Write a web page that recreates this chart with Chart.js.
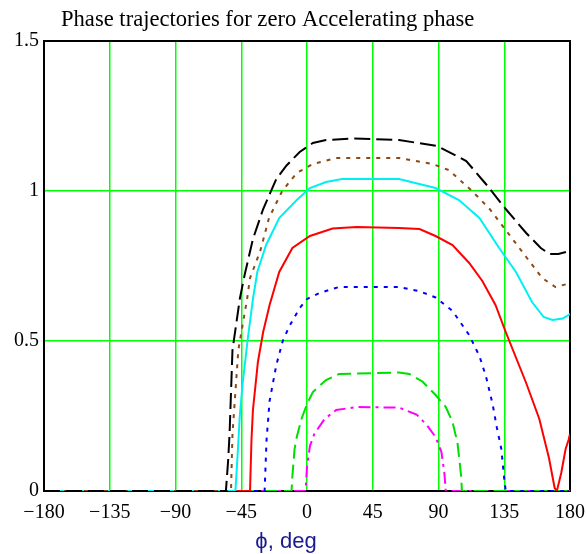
<!DOCTYPE html>
<html>
<head>
<meta charset="utf-8">
<script src="https://cdn.jsdelivr.net/npm/chart.js@4/dist/chart.umd.min.js"></script>
<style>
  html, body { margin: 0; padding: 0; background: #fff; }
  #wrap { width: 587px; height: 554px; position: relative; }
</style>
</head>
<body>
<div id="wrap"><canvas id="phase-chart"></canvas></div>
<script>
var blackPhi = [-180, -55.5, -54, -53, -51, -46, -42.7, -37, -30, -21, -14, -5, 4, 13, 31, 63, 89, 109, 123, 136, 150, 160, 166, 172, 180];
var blackW   = [0, 0, 0.10, 0.19, 0.47, 0.64, 0.72, 0.84, 0.94, 1.04, 1.085, 1.13, 1.16, 1.17, 1.175, 1.17, 1.15, 1.10, 1.02, 0.94, 0.86, 0.81, 0.79, 0.79, 0.80];

var brownPhi = [-180, -52, -51.5, -51, -49, -47, -41, -39, -32, -26, -17, -7, 4, 20, 63, 86, 97, 113, 125, 136, 150, 161, 170, 178, 180];
var brownW   = [0, 0, 0.10, 0.19, 0.33, 0.47, 0.64, 0.71, 0.80, 0.91, 1.00, 1.06, 1.09, 1.11, 1.11, 1.09, 1.07, 1.00, 0.94, 0.87, 0.78, 0.71, 0.68, 0.69, 0.69];

var cyanPhi = [-180, -49, -47.5, -46, -44, -40.6, -37, -34, -28, -19, -7, 2, 13, 24, 63, 88, 104, 118, 131.5, 143, 154, 162, 168, 175, 180];
var cyanW   = [0, 0, 0.12, 0.25, 0.36, 0.505, 0.64, 0.73, 0.82, 0.91, 0.97, 1.01, 1.03, 1.04, 1.04, 1.01, 0.97, 0.91, 0.81, 0.73, 0.63, 0.58, 0.57, 0.575, 0.59];

var redPhi = [-180, -39, -38, -37, -33.6, -30, -25.6, -19, -10, 2, 17.5, 34, 63, 77, 88, 99.6, 111, 120, 129, 136, 150, 159, 165.6, 169.5, 171, 174, 177, 179, 180];
var redW   = [0, 0, 0.17, 0.27, 0.43, 0.53, 0.62, 0.73, 0.81, 0.85, 0.875, 0.88, 0.877, 0.873, 0.85, 0.82, 0.76, 0.70, 0.62, 0.53, 0.36, 0.24, 0.11, 0.01, 0, 0.06, 0.14, 0.17, 0.19];

var bluePhi = [-180, -29, -27.7, -25.6, -21, -16.6, -12, -5, 0, 8.5, 22, 63, 77, 88, 99.6, 111, 118, 122.6, 127, 130, 133, 135, 136, 180];
var blueW   = [0, 0, 0.17, 0.30, 0.42, 0.50, 0.55, 0.61, 0.64, 0.66, 0.68, 0.68, 0.666, 0.645, 0.60, 0.52, 0.45, 0.38, 0.29, 0.21, 0.14, 0.04, 0, 0];

var greenPhi = [-180, -10.6, -10, -8.5, -7, -3.8, 0, 4, 13, 22, 63, 70, 79, 88, 95, 99.6, 103, 105.5, 106, 180];
var greenW   = [0, 0, 0.05, 0.14, 0.18, 0.24, 0.29, 0.33, 0.37, 0.39, 0.395, 0.39, 0.365, 0.32, 0.28, 0.23, 0.16, 0.05, 0, 0];

var magentaPhi = [-180, -1, 0, 2, 5, 12, 20, 34, 63, 75, 82, 88, 92, 94, 95, 180];
var magentaW   = [0, 0, 0.08, 0.15, 0.19, 0.24, 0.27, 0.28, 0.278, 0.255, 0.22, 0.18, 0.13, 0.06, 0, 0];

var xTicks = [-180, -135, -90, -45, 0, 45, 90, 135, 180];
var yTicks = [0, 0.5, 1, 1.5];

function pts(phi, w) {
    var out = [];
    for (var i = 0; i < phi.length; i++) {
        out.push({ x: phi[i], y: w[i] });
    }
    return out;
}

function trace(phi, w, color, dash) {
    return {
        data: pts(phi, w),
        borderColor: color,
        borderWidth: 2,
        borderDash: dash,
        pointRadius: 0,
        tension: 0,
        fill: false
    };
}

var frame = {
    id: 'frame',
    beforeDatasetsDraw: function (chart) {
        var a = chart.chartArea, c = chart.ctx;
        c.save();
        c.strokeStyle = '#000';
        c.lineWidth = 2;
        c.strokeRect(a.left, a.top, a.right - a.left, a.bottom - a.top);
        c.restore();
    },
    afterDraw: function (chart) {
        var c = chart.ctx;
        c.save();
        c.fillStyle = '#000';
        c.font = '22.6px "Liberation Serif"';
        c.textAlign = 'left';
        c.textBaseline = 'alphabetic';
        c.fillText('Phase trajectories for zero Accelerating phase', 61, 26);
        c.fillStyle = '#1a1a90';
        c.font = '22px "Liberation Sans"';
        c.textAlign = 'center';
        c.fillText('\u03d5, deg', 286, 548);
        c.restore();
    }
};

var ctx = document.getElementById('phase-chart').getContext('2d');
var chart = new Chart(ctx, {
    type: 'line',
    data: {
        datasets: [
            trace(blackPhi, blackW, '#000000', [16, 6]),
            trace(brownPhi, brownW, '#8b4a14', [4, 6]),
            trace(cyanPhi, cyanW, '#00f0f0', []),
            trace(redPhi, redW, '#ff0000', []),
            trace(bluePhi, blueW, '#0000ff', [4, 6]),
            trace(greenPhi, greenW, '#00dd00', [14, 6]),
            trace(magentaPhi, magentaW, '#ff00ff', [12, 5, 3, 5])
        ]
    },
    plugins: [frame],
    options: {
        responsive: true,
        maintainAspectRatio: false,
        animation: false,
        layout: { padding: { top: 41, right: 17, left: 0, bottom: 0 } },
        plugins: {
            legend: { display: false },
            tooltip: { enabled: false }
        },
        scales: {
            x: {
                type: 'linear',
                min: -180,
                max: 180,
                afterBuildTicks: function (scale) {
                    scale.ticks = xTicks.map(function (v) { return { value: v }; });
                },
                afterFit: function (scale) {
                    scale.height = 63;
                    scale.paddingLeft = 0;
                    scale.paddingRight = 0;
                },
                border: { display: false },
                grid: { color: '#00ff00', lineWidth: 1.5, drawTicks: false },
                ticks: {
                    padding: 10,
                    color: '#000',
                    font: { family: 'Liberation Serif', size: 20 },
                    maxRotation: 0,
                    callback: function (v) { return String(v).replace('-', '\u2212'); }
                }
            },
            y: {
                min: 0,
                max: 1.5,
                afterBuildTicks: function (scale) {
                    scale.ticks = yTicks.map(function (v) { return { value: v }; });
                },
                afterFit: function (scale) {
                    scale.width = 44;
                    scale.paddingTop = 0;
                    scale.paddingBottom = 0;
                },
                border: { display: false },
                grid: { color: '#00ff00', lineWidth: 1.5, drawTicks: false },
                ticks: {
                    padding: 5,
                    color: '#000',
                    font: { family: 'Liberation Serif', size: 20 },
                    callback: function (v) { return String(v); }
                }
            }
        }
    }
});
</script>
</body>
</html>
